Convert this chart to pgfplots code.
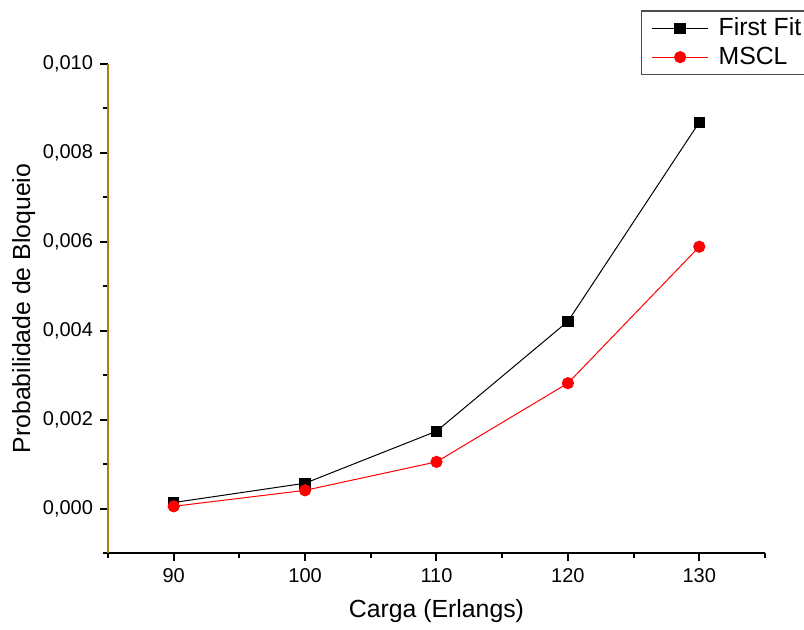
\documentclass[border=0pt]{standalone}
\usepackage{pgfplots}
\pgfplotsset{compat=1.18}
\usepackage{fontspec}
\setmainfont{Liberation Sans}
\definecolor{yaxcol}{RGB}{175,125,15}
\begin{document}
\begin{tikzpicture}
\begin{axis}[
  scale only axis,
  width=328.5pt, height=244.5pt,
  xmin=85, xmax=135, ymin=-0.001, ymax=0.010,
  axis lines*=left,
  x axis line style={black, line width=1pt},
  y axis line style={yaxcol, line width=1pt},
  tick align=outside,
  major tick length=4pt, minor tick length=2.5pt,
  every tick/.style={black, line width=1pt},
  xtick={90,100,...,130},
  minor xtick={85,95,105,115,125,135},
  ytick={0,0.002,0.004,0.006,0.008,0.010},
  minor ytick={-0.001,0.001,0.003,0.005,0.007,0.009},
  scaled y ticks=false,
  yticklabel style={/pgf/number format/.cd, fixed, fixed zerofill, precision=3, use comma},
  /pgf/number format/assume math mode=true,
  ticklabel style={font=\fontsize{10}{12}\selectfont},
  xlabel={Carga (Erlangs)},
  ylabel={Probabilidade de Bloqueio},
  label style={font=\fontsize{12.4}{14}\selectfont},
  xlabel style={yshift=-2pt},
  ylabel style={yshift=-3pt},
  legend style={at={(axis description cs:0.811,1.110)}, anchor=north west,
    draw=black!70, line width=0.8pt, font=\fontsize{12.4}{14}\selectfont,
    inner xsep=5pt, inner ysep=1.5pt, row sep=0pt,
    /tikz/every odd column/.append style={column sep=3pt}},
  legend cell align=left,
  legend image code/.code={\draw[mark repeat=2,mark phase=2] plot coordinates {(0pt,0pt)(14pt,0pt)(28pt,0pt)};},
  clip=false,
]
\addplot[black, line width=0.5pt, mark=square*, mark size=2.6pt, mark options={solid, fill=black}]
  coordinates {(90,0.000135) (100,0.00057) (110,0.00174) (120,0.00421) (130,0.00869)};
\addlegendentry{First Fit}
\addplot[red, line width=0.5pt, mark=*, mark size=2.8pt, mark options={solid, fill=red}]
  coordinates {(90,0.00005) (100,0.00041) (110,0.00105) (120,0.00282) (130,0.00589)};
\addlegendentry{MSCL}
\end{axis}
\pgfresetboundingbox
\useasboundingbox (-54pt,-38pt) rectangle (348pt,276.5pt);
\end{tikzpicture}
\end{document}
